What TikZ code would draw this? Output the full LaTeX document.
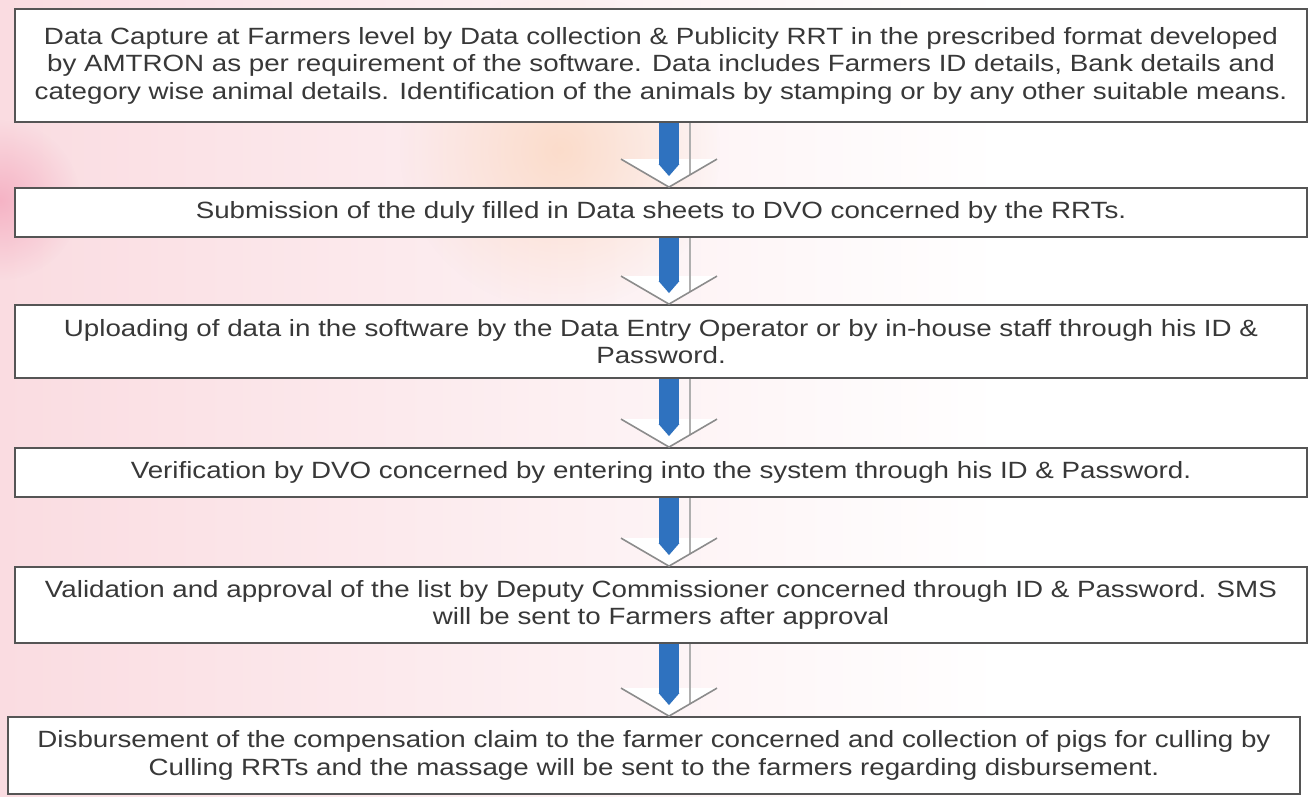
\documentclass[tikz,border=0pt]{standalone}
\usepackage{fontspec}
\setmainfont{Liberation Sans}[FakeStretch=1.18]
\usetikzlibrary{arrows.meta,calc,fadings}
\definecolor{ink}{HTML}{383838}
\definecolor{frame}{HTML}{555555}
\definecolor{flowblue}{HTML}{2F72BF}
\definecolor{chevgray}{HTML}{8C8C8C}
\definecolor{bgpink}{HTML}{FADCE1}
\definecolor{bgpeach}{HTML}{FDEDE2}
\definecolor{blobpink}{HTML}{F4A9BE}
\definecolor{blobpeach}{HTML}{F9C9A4}
\tikzfading[name=blobfade,inner color=transparent!0,outer color=transparent!100]
\tikzset{
  stepbox/.style={draw=frame,line width=1.8pt,fill=white,minimum width=1292pt,
                  align=center,text=ink,font=\fontsize{23.5}{27.5}\selectfont,inner sep=0pt},
  shaft/.style={draw=flowblue,line width=20pt,-{Triangle[length=12pt,width=20pt]},shorten >=11pt},
  chevron/.style={draw=chevgray,line width=1.6pt,line join=miter},
  chevside/.style={draw=chevgray!70,line width=1.4pt},
}
\begin{document}
\begin{tikzpicture}[x=1pt,y=-1pt]
  \useasboundingbox (0,0) rectangle (1308,796);
  \fill[white] (0,0) rectangle (1308,796);
  \shade[left color=bgpink,middle color=bgpeach,right color=white] (0,0) rectangle (1000,796);
  \fill[blobpink,path fading=blobfade,opacity=0.8] (0,200) circle (80);
  \fill[blobpeach,path fading=blobfade,opacity=0.5] (560,150) circle (160);

  \node[stepbox,minimum height=113pt] (b1) at (661,65.5)
    {Data Capture at Farmers level by Data collection \& Publicity RRT in the prescribed format developed\\
     by AMTRON as per requirement of the software. Data includes Farmers ID details, Bank details and\\
     category wise animal details. Identification of the animals by stamping or by any other suitable means.};
  \node[stepbox,minimum height=49pt] (b2) at (661,212.5)
    {Submission of the duly filled in Data sheets to DVO concerned by the RRTs.};
  \node[stepbox,minimum height=73pt] (b3) at (661,341.5)
    {Uploading of data in the software by the Data Entry Operator or by in-house staff through his ID \&\\
     Password.};
  \node[stepbox,minimum height=49pt] (b4) at (661,472.5)
    {Verification by DVO concerned by entering into the system through his ID \& Password.};
  \node[stepbox,minimum height=76pt] (b5) at (661,605)
    {Validation and approval of the list by Deputy Commissioner concerned through ID \& Password. SMS\\
     will be sent to Farmers after approval};
  \node[stepbox,minimum height=77pt] (b6) at (654,755.5)
    {Disbursement of the compensation claim to the farmer concerned and collection of pigs for culling by\\
     Culling RRTs and the massage will be sent to the farmers regarding disbursement.};

  % block arrows between the steps
  \foreach \a/\b in {b1/b2,b2/b3,b3/b4,b4/b5,b5/b6}{
    \coordinate (tip) at ([xshift=8pt]\a.south |- \b.north);
    \fill[white] ($(tip)+(-48,-28)$) -- (tip) -- ($(tip)+(48,-28)$) -- cycle;
    \draw[chevside] ([xshift=29pt]\a.south) -- ($(tip)+(21,-12)$);
    \draw[chevron] ($(tip)+(-48,-28)$) -- (tip) -- ($(tip)+(48,-28)$);
    \draw[shaft] ([xshift=8pt]\a.south) -- (tip);
  }
\end{tikzpicture}
\end{document}
